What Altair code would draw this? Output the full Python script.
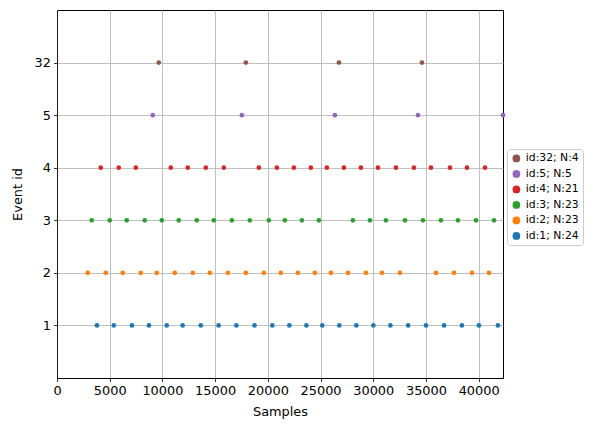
import altair as alt
import pandas as pd

event_ids = [1, 2, 3, 4, 5, 32]
colors = ["#1f77b4", "#ff7f0e", "#2ca02c", "#d62728", "#9467bd", "#8c564b"]

samples_1 = [3790, 5385, 7108, 8724, 10411, 11919, 13642, 15329, 17017, 18740,
             20427, 22043, 23658, 25166, 26781, 28397, 30012, 31628, 33315,
             35003, 36726, 38413, 40029, 41824]
samples_2 = [2914, 4623, 6237, 7946, 9465, 11173, 12882, 14496, 16205, 17914,
             19623, 21237, 22850, 24464, 25983, 27597, 29306, 30825, 32533,
             35951, 37660, 39369, 40983]
samples_3 = [3294, 5003, 6617, 8325, 9939, 11553, 13262, 14876, 16585, 18293,
             20097, 21616, 23230, 24844, 28071, 29685, 31204, 33008, 34717,
             36426, 38040, 39749, 41457]
samples_4 = [4148, 5857, 7471, 10794, 12407, 14116, 15825, 19148, 20857, 22470,
             24084, 25603, 27217, 28831, 30445, 32154, 33862, 35476, 37280,
             38894, 40603]
samples_5 = [9085, 17534, 26363, 34242, 42311]
samples_32 = [9655, 17914, 26743, 34622]

all_samples = [samples_1, samples_2, samples_3, samples_4, samples_5, samples_32]
x_ticks = [0, 5000, 10000, 15000, 20000, 25000, 30000, 35000, 40000]
x_max = 42311

rows = []
labels = []
for pos, (eid, smp) in enumerate(zip(event_ids, all_samples), start=1):
    lab = f"id:{eid}; N:{len(smp)}"
    labels.append(lab)
    for s in smp:
        rows.append({"sample": s, "pos": pos, "label": lab})
df = pd.DataFrame(rows)

legend_order = labels[::-1]
legend_colors = colors[::-1]

label_expr = "{1:'1',2:'2',3:'3',4:'4',5:'5',6:'32'}[datum.value]"

chart = alt.Chart(df).mark_circle(size=22, opacity=1).encode(
    x=alt.X("sample:Q", title="Samples",
            scale=alt.Scale(domain=[0, x_max], nice=False, zero=False),
            axis=alt.Axis(values=x_ticks, format="d", grid=True, labelFlush=False)),
    y=alt.Y("pos:Q", title="Event id",
            scale=alt.Scale(domain=[0, 7], nice=False),
            axis=alt.Axis(values=[1, 2, 3, 4, 5, 6], labelExpr=label_expr, grid=True,
                          labelFlush=False)),
    color=alt.Color("label:N",
                    scale=alt.Scale(domain=legend_order, range=legend_colors),
                    legend=alt.Legend(title=None, orient="none", legendX=450, legendY=139,
                                      symbolType="circle", symbolSize=60,
                                      labelFontSize=10.8, labelFont="DejaVu Sans",
                                      rowPadding=3.5, padding=4, strokeColor="#cccccc",
                                      cornerRadius=3, symbolOpacity=1,
                                      labelColor="black", labelLimit=200)),
).properties(
    width=446, height=368,
    autosize=alt.AutoSizeParams(type="none"),
    padding={"left": 49, "top": 2, "right": 84, "bottom": 46},
).configure_view(
    stroke="black", strokeWidth=1
).configure_axis(
    labelFont="DejaVu Sans", titleFont="DejaVu Sans", labelFontSize=12.9, titleFontSize=12.9,
    titleFontWeight="normal", labelColor="black", titleColor="black",
    tickColor="black", tickSize=3.5, tickWidth=0.8, domainColor="black", domainWidth=0.8,
    gridColor="#b0b0b0", gridWidth=0.8, labelPadding=3
).configure_axisX(
    titlePadding=8
).configure_axisY(
    titlePadding=10
)

chart.save("out.html", embed_options={"renderer": "svg", "actions": False})
